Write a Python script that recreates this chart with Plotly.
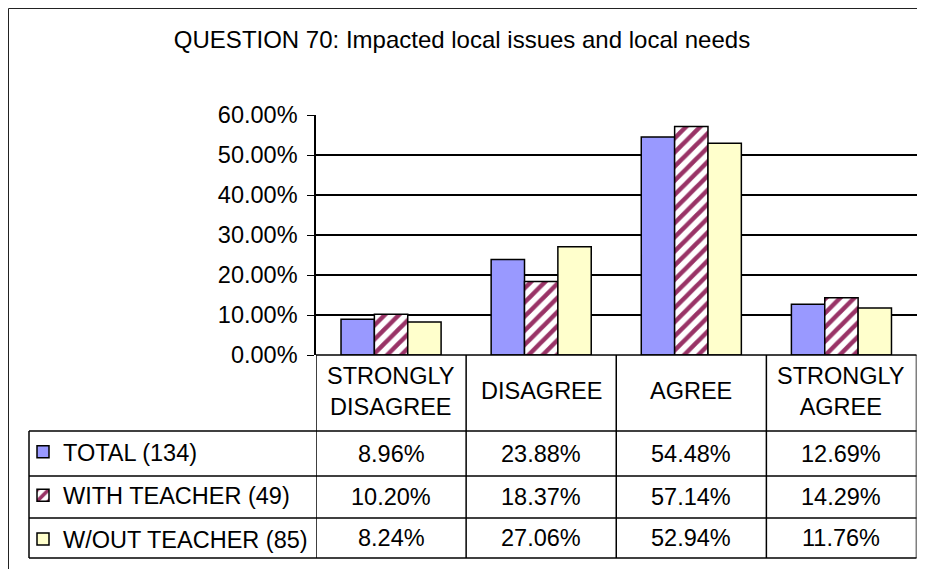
import plotly.graph_objects as go

# ---------------- data ----------------
categories = ["STRONGLY<br>DISAGREE", "DISAGREE", "AGREE", "STRONGLY<br>AGREE"]
series_names = ["TOTAL (134)", "WITH TEACHER (49)", "W/OUT TEACHER (85)"]
total = [8.96, 23.88, 54.48, 12.69]
with_teacher = [10.20, 18.37, 57.14, 14.29]
without_teacher = [8.24, 27.06, 52.94, 11.76]
y_tick_values = [0, 10, 20, 30, 40, 50, 60]
title_text = "QUESTION 70: Impacted local issues and local needs"

# ---------------- layout helpers ----------------
OFF = 8  # default page body margin
W, H = 925 - 2 * OFF, 577 - 2 * OFF  # fit the window without scrollbars
FONT = "Liberation Sans, Arial, sans-serif"
FS = 23.5


def fx(px):
    return (px - OFF) / W


def fy(py):
    return 1 - (py - OFF) / H


plot_left, plot_right, plot_top, plot_bottom = 316, 916.5, 115, 355
table_left = 29
row_lines = [431, 476, 518, 558]
row_centers = [453.5, 497, 538]
header_center = 391

series_values = [total, with_teacher, without_teacher]
styles = [
    dict(color="#9999FF", line=dict(color="black", width=1.5)),
    dict(color="white", line=dict(color="black", width=1.5),
         pattern=dict(shape="/", fgcolor="#993366", bgcolor="white",
                      size=10, solidity=0.45, fillmode="replace")),
    dict(color="#FFFFCC", line=dict(color="black", width=1.5)),
]

fig = go.Figure()
for name, vals, st in zip(series_names, series_values, styles):
    fig.add_trace(go.Bar(x=categories, y=vals, name=name, marker=st,
                         legendgroup=name))

fig.update_layout(
    template="none",
    width=W, height=H,
    margin=dict(l=0, r=0, t=0, b=0, autoexpand=False),
    paper_bgcolor="white", plot_bgcolor="white",
    font=dict(family=FONT, size=FS, color="black"),
    barmode="group", bargap=1/3, bargroupgap=0,
    title=dict(text=title_text, x=fx(462), xanchor="center",
               y=fy(40), yanchor="middle", yref="paper", xref="paper",
               font=dict(family=FONT, size=24, color="black")),
    xaxis=dict(domain=[fx(plot_left), fx(plot_right)], range=[-0.5, 3.5],
               showticklabels=False, ticks="", showgrid=False,
               showline=False, zeroline=False, fixedrange=True,
               automargin=False),
    yaxis=dict(domain=[fy(plot_bottom), fy(plot_top)], range=[0, 60],
               tickvals=y_tick_values,
               ticktext=[f"{v:.2f}%" for v in y_tick_values],
               ticks="outside", ticklen=7, tickcolor="black", tickwidth=1,
               ticklabelstandoff=5,
               showgrid=True, gridcolor="black", gridwidth=1.5,
               showline=True, linecolor="black", linewidth=1.5,
               zeroline=False, fixedrange=True, automargin=False),
    legend=dict(x=fx(23), y=fy(430), xanchor="left",
                yanchor="top", bgcolor="rgba(0,0,0,0)", borderwidth=0,
                tracegroupgap=10, traceorder="grouped",
                font=dict(family=FONT, size=FS, color="black"),
                itemclick=False, itemdoubleclick=False),
    showlegend=True,
)

shapes = []
# outer chart frame: only its top and left edges fall inside the window
shapes.append(dict(type="line", xref="paper", yref="paper",
                   x0=fx(8.5), x1=1, y0=fy(8.5), y1=fy(8.5),
                   line=dict(color="#222222", width=1)))
shapes.append(dict(type="line", xref="paper", yref="paper",
                   x0=fx(8.5), x1=fx(8.5), y0=0, y1=fy(8.5),
                   line=dict(color="#222222", width=1)))
# table horizontal lines
for ly in row_lines:
    shapes.append(dict(type="line", xref="paper", yref="paper",
                       x0=fx(table_left), x1=fx(plot_right), y0=fy(ly), y1=fy(ly),
                       line=dict(color="black", width=1.5)))
# x axis line (bottom of plot / top of header)
shapes.append(dict(type="line", xref="paper", yref="paper",
                   x0=fx(plot_left), x1=fx(plot_right),
                   y0=fy(plot_bottom), y1=fy(plot_bottom),
                   line=dict(color="black", width=1.5)))
# table left border
shapes.append(dict(type="line", xref="paper", yref="paper",
                   x0=fx(table_left), x1=fx(table_left),
                   y0=fy(row_lines[0]), y1=fy(row_lines[-1]),
                   line=dict(color="black", width=1.5)))
# column boundaries (category boundaries on x axis)
for b in [-0.5, 0.5, 1.5, 2.5, 3.5]:
    shapes.append(dict(type="line", xref="x", yref="paper",
                       x0=b, x1=b, y0=fy(row_lines[-1]), y1=fy(plot_bottom),
                       line=dict(color="black", width=1.5)))
fig.update_layout(shapes=shapes)

annotations = []
for i, cat in enumerate(categories):
    annotations.append(dict(x=i, y=fy(header_center), xref="x", yref="paper",
                            text=cat, showarrow=False, xanchor="center",
                            yanchor="middle", align="center",
                            font=dict(family=FONT, size=FS, color="black")))
    for r, vals in enumerate(series_values):
        annotations.append(dict(x=i, y=fy(row_centers[r]), xref="x", yref="paper",
                                text=f"{vals[i]:.2f}%", showarrow=False,
                                xanchor="center", yanchor="middle",
                                font=dict(family=FONT, size=FS, color="black")))
fig.update_layout(annotations=annotations)

fig.write_html("out.html")
